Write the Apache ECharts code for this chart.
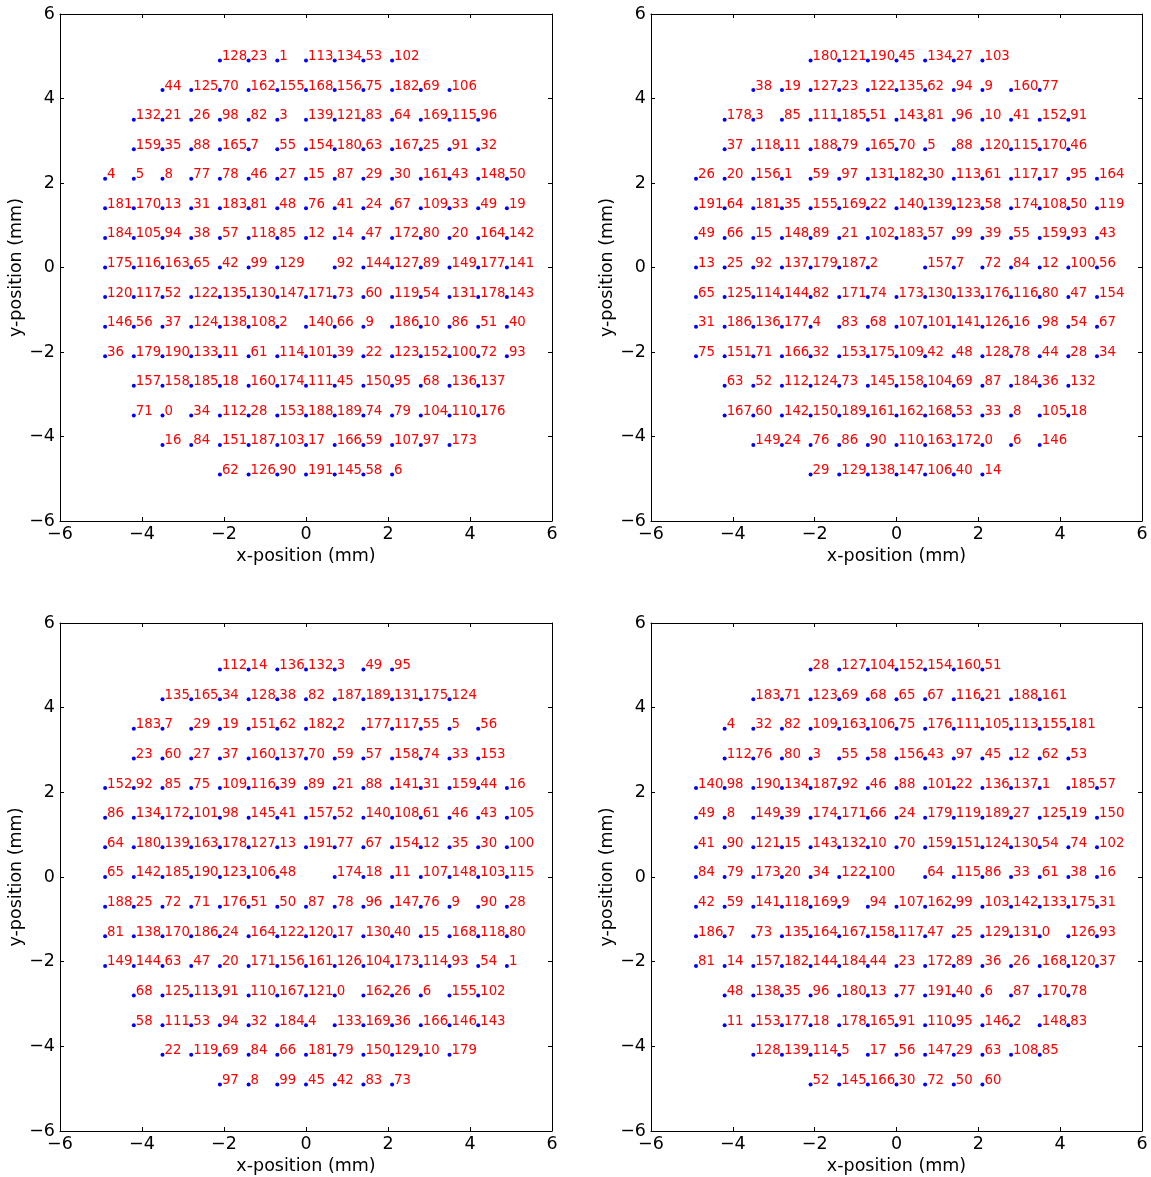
<!DOCTYPE html>
<html>
<head>
<meta charset="utf-8">
<script src="https://cdn.jsdelivr.net/npm/echarts@6/dist/echarts.min.js"></script>
<style>
  html, body { margin: 0; padding: 0; background: #fff; }
  #chart { width: 1151px; height: 1177px; }
</style>
</head>
<body>
<div id="chart"></div>
<script>
// Lattice positions (mm) of the pixels, columns left to right and rows top to bottom
const xCols = [-4.9, -4.2, -3.5, -2.8, -2.1, -1.4, -0.7, 0, 0.7, 1.4, 2.1, 2.8, 3.5, 4.2, 4.9];
const yRows = [4.9, 4.2, 3.5, 2.8, 2.1, 1.4, 0.7, 0, -0.7, -1.4, -2.1, -2.8, -3.5, -4.2, -4.9];
const axisTicks = [-6, -4, -2, 0, 2, 4, 6];

const _ = null; // no pixel at this lattice site

// Channel number at every lattice site, one map per panel
const mapA = [
  [_,_,_,_,128,23,1,113,134,53,102,_,_,_,_],
  [_,_,44,125,70,162,155,168,156,75,182,69,106,_,_],
  [_,132,21,26,98,82,3,139,121,83,64,169,115,96,_],
  [_,159,35,88,165,7,55,154,180,63,167,25,91,32,_],
  [4,5,8,77,78,46,27,15,87,29,30,161,43,148,50],
  [181,170,13,31,183,81,48,76,41,24,67,109,33,49,19],
  [184,105,94,38,57,118,85,12,14,47,172,80,20,164,142],
  [175,116,163,65,42,99,129,_,92,144,127,89,149,177,141],
  [120,117,52,122,135,130,147,171,73,60,119,54,131,178,143],
  [146,56,37,124,138,108,2,140,66,9,186,10,86,51,40],
  [36,179,190,133,11,61,114,101,39,22,123,152,100,72,93],
  [_,157,158,185,18,160,174,111,45,150,95,68,136,137,_],
  [_,71,0,34,112,28,153,188,189,74,79,104,110,176,_],
  [_,_,16,84,151,187,103,17,166,59,107,97,173,_,_],
  [_,_,_,_,62,126,90,191,145,58,6,_,_,_,_]
];

const mapB = [
  [_,_,_,_,180,121,190,45,134,27,103,_,_,_,_],
  [_,_,38,19,127,23,122,135,62,94,9,160,77,_,_],
  [_,178,3,85,111,185,51,143,81,96,10,41,152,91,_],
  [_,37,118,11,188,79,165,70,5,88,120,115,170,46,_],
  [26,20,156,1,59,97,131,182,30,113,61,117,17,95,164],
  [191,64,181,35,155,169,22,140,139,123,58,174,108,50,119],
  [49,66,15,148,89,21,102,183,57,99,39,55,159,93,43],
  [13,25,92,137,179,187,2,_,157,7,72,84,12,100,56],
  [65,125,114,144,82,171,74,173,130,133,176,116,80,47,154],
  [31,186,136,177,4,83,68,107,101,141,126,16,98,54,67],
  [75,151,71,166,32,153,175,109,42,48,128,78,44,28,34],
  [_,63,52,112,124,73,145,158,104,69,87,184,36,132,_],
  [_,167,60,142,150,189,161,162,168,53,33,8,105,18,_],
  [_,_,149,24,76,86,90,110,163,172,0,6,146,_,_],
  [_,_,_,_,29,129,138,147,106,40,14,_,_,_,_]
];

const mapC = [
  [_,_,_,_,112,14,136,132,3,49,95,_,_,_,_],
  [_,_,135,165,34,128,38,82,187,189,131,175,124,_,_],
  [_,183,7,29,19,151,62,182,2,177,117,55,5,56,_],
  [_,23,60,27,37,160,137,70,59,57,158,74,33,153,_],
  [152,92,85,75,109,116,39,89,21,88,141,31,159,44,16],
  [86,134,172,101,98,145,41,157,52,140,108,61,46,43,105],
  [64,180,139,163,178,127,13,191,77,67,154,12,35,30,100],
  [65,142,185,190,123,106,48,_,174,18,11,107,148,103,115],
  [188,25,72,71,176,51,50,87,78,96,147,76,9,90,28],
  [81,138,170,186,24,164,122,120,17,130,40,15,168,118,80],
  [149,144,63,47,20,171,156,161,126,104,173,114,93,54,1],
  [_,68,125,113,91,110,167,121,0,162,26,6,155,102,_],
  [_,58,111,53,94,32,184,4,133,169,36,166,146,143,_],
  [_,_,22,119,69,84,66,181,79,150,129,10,179,_,_],
  [_,_,_,_,97,8,99,45,42,83,73,_,_,_,_]
];

const mapD = [
  [_,_,_,_,28,127,104,152,154,160,51,_,_,_,_],
  [_,_,183,71,123,69,68,65,67,116,21,188,161,_,_],
  [_,4,32,82,109,163,106,75,176,111,105,113,155,181,_],
  [_,112,76,80,3,55,58,156,43,97,45,12,62,53,_],
  [140,98,190,134,187,92,46,88,101,22,136,137,1,185,57],
  [49,8,149,39,174,171,66,24,179,119,189,27,125,19,150],
  [41,90,121,15,143,132,10,70,159,151,124,130,54,74,102],
  [84,79,173,20,34,122,100,_,64,115,86,33,61,38,16],
  [42,59,141,118,169,9,94,107,162,99,103,142,133,175,31],
  [186,7,73,135,164,167,158,117,47,25,129,131,0,126,93],
  [81,14,157,182,144,184,44,23,172,89,36,26,168,120,37],
  [_,48,138,35,96,180,13,77,191,40,6,87,170,78,_],
  [_,11,153,177,18,178,165,91,110,95,146,2,148,83,_],
  [_,_,128,139,114,5,17,56,147,29,63,108,85,_,_],
  [_,_,_,_,52,145,166,30,72,50,60,_,_,_,_]
];

const panelMaps = [mapA, mapB, mapC, mapD];

// Plot boxes in pixels: 2 x 2 layout
const boxes = [
  { left: 60,  top: 14,  width: 492, height: 507 },
  { left: 651, top: 14,  width: 491, height: 507 },
  { left: 60,  top: 623, width: 492, height: 508 },
  { left: 651, top: 623, width: 491, height: 508 }
];

const FONT = 'DejaVu Sans';
const AXIS_FONT = 17.5;
const ID_FONT = 13.3;
const minus = v => (v < 0 ? '\u2212' + (-v) : String(v));

function toPoints(map) {
  const pts = [];
  map.forEach((row, r) => {
    row.forEach((id, c) => {
      if (id !== null) pts.push([xCols[c], yRows[r], id]);
    });
  });
  return pts;
}

const grid = [], xAxis = [], yAxis = [], series = [];

boxes.forEach((b, i) => {
  grid.push(Object.assign({ show: false, containLabel: false }, b));

  const common = {
    gridIndex: i, type: 'value', min: -6, max: 6, interval: 2,
    splitLine: { show: false },
    axisLine: { show: true, onZero: false, lineStyle: { color: '#000', width: 1 } },
    axisTick: { show: true, inside: true, length: 4, lineStyle: { color: '#000', width: 1 } }
  };

  // bottom / left axes carry the labels and titles
  xAxis.push(Object.assign({}, common, {
    position: 'bottom',
    name: 'x-position (mm)', nameLocation: 'middle', nameGap: 26,
    nameTextStyle: { fontFamily: FONT, fontSize: AXIS_FONT, color: '#000' },
    axisLabel: { show: true, margin: 4, fontFamily: FONT, fontSize: AXIS_FONT, color: '#000', formatter: minus }
  }));
  yAxis.push(Object.assign({}, common, {
    position: 'left',
    name: 'y-position (mm)', nameLocation: 'middle', nameGap: 34,
    nameTextStyle: { fontFamily: FONT, fontSize: AXIS_FONT, color: '#000' },
    axisLabel: { show: true, margin: 5, fontFamily: FONT, fontSize: AXIS_FONT, color: '#000', formatter: minus }
  }));
});

// top / right frame edges with inward ticks
boxes.forEach((b, i) => {
  const common = {
    gridIndex: i, type: 'value', min: -6, max: 6, interval: 2,
    splitLine: { show: false },
    axisLabel: { show: false },
    axisLine: { show: true, onZero: false, lineStyle: { color: '#000', width: 1 } },
    axisTick: { show: true, inside: true, length: 4, lineStyle: { color: '#000', width: 1 } }
  };
  xAxis.push(Object.assign({}, common, { position: 'top' }));
  yAxis.push(Object.assign({}, common, { position: 'right' }));
});

panelMaps.forEach((map, i) => {
  series.push({
    type: 'scatter',
    xAxisIndex: i, yAxisIndex: i,
    data: toPoints(map),
    symbol: 'circle', symbolSize: 4,
    itemStyle: { color: '#0000ff', opacity: 1 },
    label: {
      show: true, position: 'right', distance: 0, offset: [0, -4],
      fontFamily: FONT, fontSize: ID_FONT, color: '#ff0000',
      formatter: p => String(p.value[2])
    },
    emphasis: { disabled: true }
  });
});

const chart = echarts.init(document.getElementById('chart'), null, { renderer: 'canvas' });
chart.setOption({
  animation: false,
  backgroundColor: '#fff',
  grid, xAxis, yAxis, series
});
</script>
</body>
</html>
